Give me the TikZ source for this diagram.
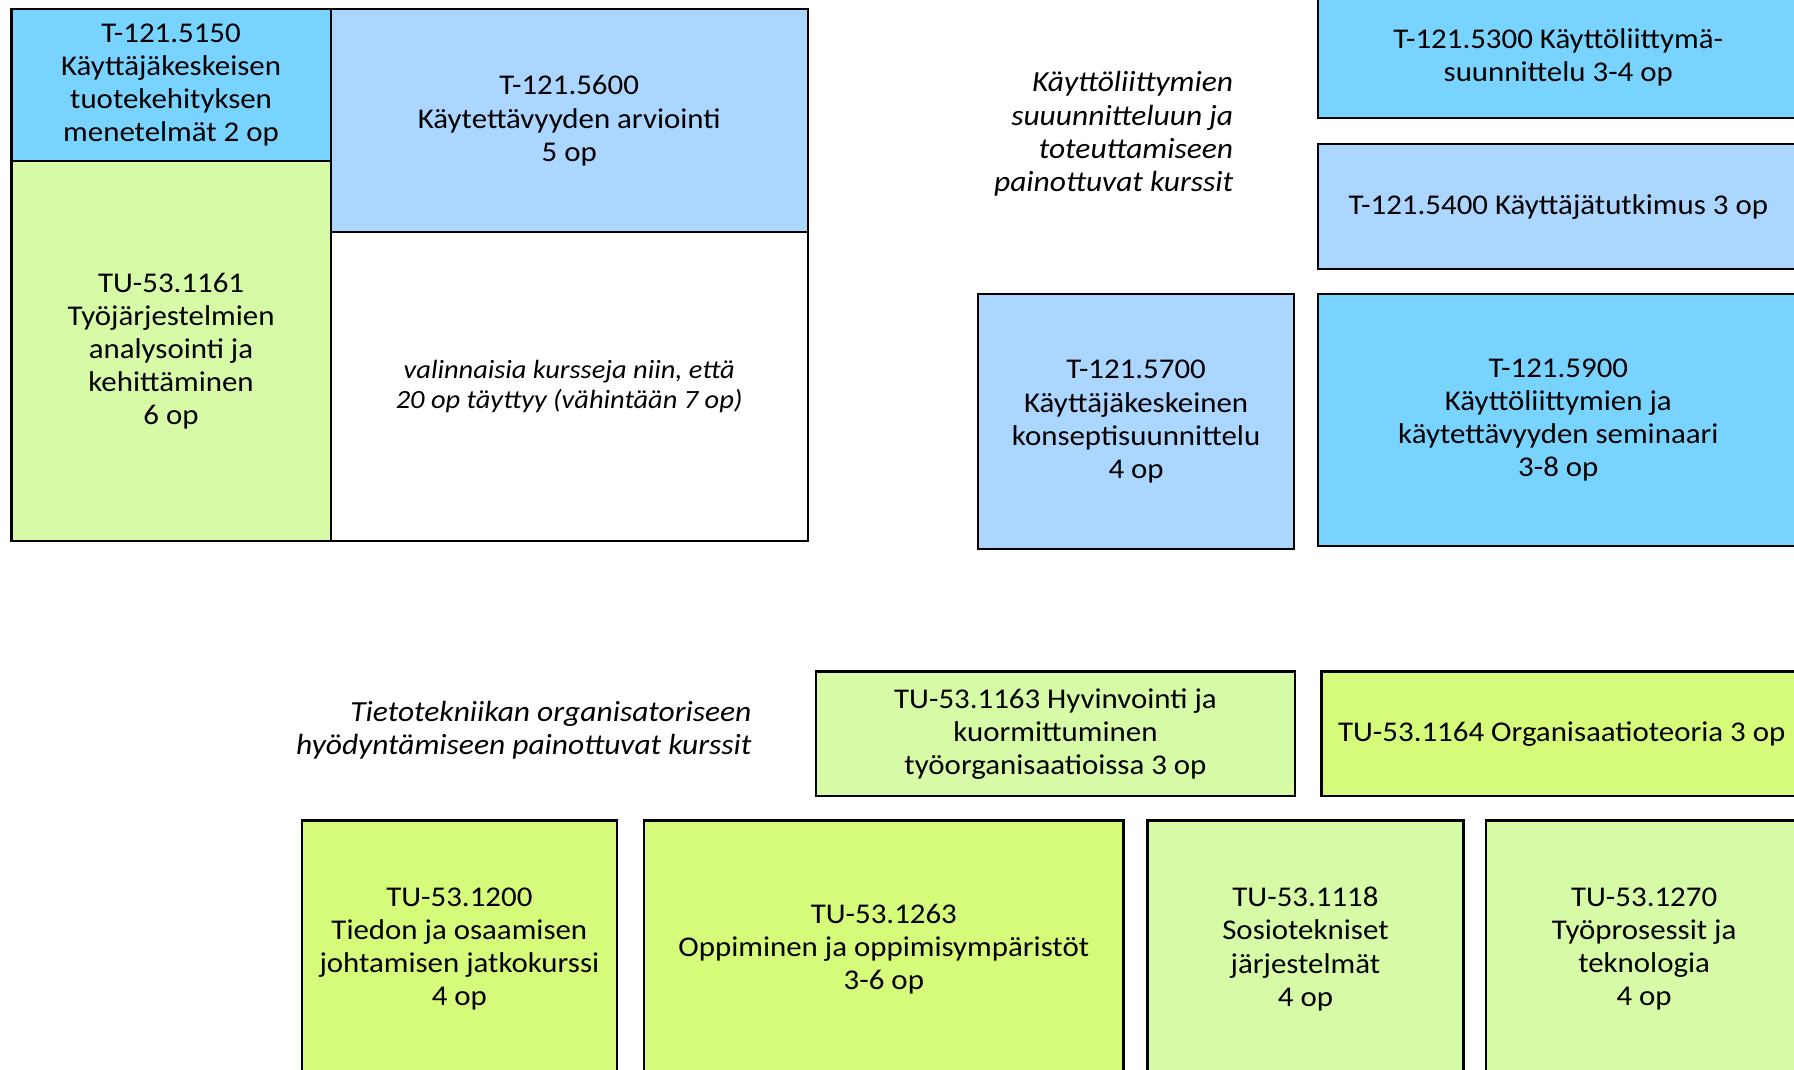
\documentclass[tikz,border=0pt]{standalone}
\usepackage{fontspec}
\setmainfont{Carlito}[FakeStretch=1.08]
\definecolor{cyanb}{RGB}{120,212,255}
\definecolor{lblue}{RGB}{170,214,255}
\definecolor{lgreen}{RGB}{214,250,166}
\definecolor{ygreen}{RGB}{214,250,122}
\begin{document}
\begin{tikzpicture}[x=1pt,y=-1pt,
  box/.style={draw=black, line width=2pt, inner sep=0pt, anchor=north west, align=center,
    font=\fontsize{25}{29}\selectfont},
  note/.style={inner sep=0pt, align=right, anchor=east, font=\fontsize{25.5}{29}\selectfont\itshape}]
\useasboundingbox (0,0) rectangle (1568,935);
% top-left group
\node[box, fill=cyanb, minimum width=279pt, minimum height=133pt] (a) at (9,7)
  {T-121.5150\\Käyttäjäkeskeisen\\tuotekehityksen\\menetelmät 2 op};
\node[box, fill=lgreen, minimum width=279pt, minimum height=332pt] (b) at (9,140)
  {TU-53.1161\\Työjärjestelmien\\analysointi ja\\kehittäminen\\6 op};
\node[box, fill=lblue, minimum width=417pt, minimum height=195pt] (c) at (288,7)
  {T-121.5600\\Käytettävyyden arviointi\\5 op};
\node[box, fill=white, minimum width=417pt, minimum height=270pt,
  font=\fontsize{23}{26}\selectfont\itshape] (d) at (288,202)
  {valinnaisia kursseja niin, että\\20 op täyttyy (vähintään 7 op)};
% top-right group
\node[note] (n1) at (1078,117)
  {Käyttöliittymien\\suuunnitteluun ja\\toteuttamiseen\\painottuvat kurssit};
\node[box, fill=cyanb, minimum width=420pt, minimum height=106pt] (e) at (1151,-4)
  {T-121.5300 Käyttöliittymä-\\suunnittelu 3-4 op};
\node[box, fill=lblue, minimum width=420pt, minimum height=109pt] (f) at (1151,125)
  {T-121.5400 Käyttäjätutkimus 3 op};
\node[box, fill=lblue, minimum width=276pt, minimum height=223pt] (g) at (854,256)
  {T-121.5700\\Käyttäjäkeskeinen\\konseptisuunnittelu\\4 op};
\node[box, fill=cyanb, minimum width=420pt, minimum height=220pt] (h) at (1151,256)
  {T-121.5900\\Käyttöliittymien ja\\käytettävyyden seminaari\\3-8 op};
% bottom group
\node[note] (n2) at (657,638.5)
  {Tietotekniikan organisatoriseen\\hyödyntämiseen painottuvat kurssit};
\node[box, fill=lgreen, minimum width=419pt, minimum height=109pt] (i) at (712,586)
  {TU-53.1163 Hyvinvointi ja\\kuormittuminen\\työorganisaatioissa 3 op};
\node[box, fill=ygreen, minimum width=420pt, minimum height=109pt] (j) at (1154,586)
  {TU-53.1164 Organisaatioteoria 3 op};
\node[box, fill=ygreen, minimum width=275pt, minimum height=225pt] (k) at (263,716)
  {TU-53.1200\\Tiedon ja osaamisen\\johtamisen jatkokurssi\\4 op};
\node[box, fill=ygreen, minimum width=419pt, minimum height=225pt] (l) at (562,716)
  {TU-53.1263\\Oppiminen ja oppimisympäristöt\\3-6 op};
\node[box, fill=lgreen, minimum width=276pt, minimum height=225pt] (m) at (1002,716)
  {TU-53.1118\\Sosiotekniset\\järjestelmät\\4 op};
\node[box, fill=lgreen, minimum width=276pt, minimum height=225pt] (o) at (1298,716)
  {TU-53.1270\\Työprosessit ja\\teknologia\\4 op};
\end{tikzpicture}
\end{document}
